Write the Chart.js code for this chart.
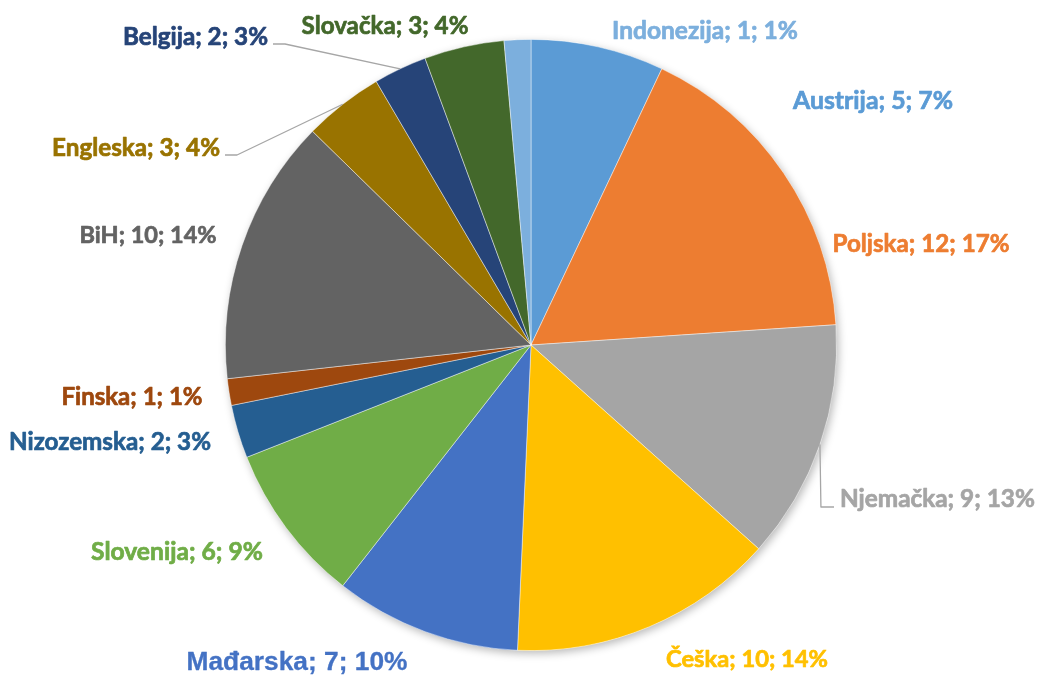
<!DOCTYPE html>
<html>
<head>
<meta charset="utf-8">
<script src="https://cdn.jsdelivr.net/npm/chart.js@4/dist/chart.umd.min.js"></script>
<style>
  html, body { margin: 0; padding: 0; background: #ffffff; }
  #wrap { width: 1038px; height: 677px; position: relative; }
</style>
</head>
<body>
<div id="wrap"><canvas id="c" width="1038" height="677"></canvas></div>
<script>
// ---- data ----
const categories = ['Austrija', 'Poljska', 'Njemačka', 'Češka', 'Mađarska', 'Slovenija', 'Nizozemska', 'Finska', 'BiH', 'Engleska', 'Belgija', 'Slovačka', 'Indonezija'];
const values = [5, 12, 9, 10, 7, 6, 2, 1, 10, 3, 2, 3, 1];
const percents = [7, 17, 13, 14, 10, 9, 3, 1, 14, 4, 3, 4, 1];

// ---- styles ----
const colors = ['#5B9BD5', '#ED7D31', '#A5A5A5', '#FFC000', '#4472C4', '#70AD47', '#255E91', '#9E480E', '#636363', '#997300', '#264478', '#43682B', '#7CAFDD'];
const FONT_MAIN = 'Lato, "Open Sans", "DejaVu Sans", sans-serif';
const FONT_ALT = '"Liberation Sans", Arial, sans-serif';
// label placement: anchor x, baseline y, alignment, target text width, leader line
const labelLayout = [
  { x: 873,  y: 109, align: 'center', w: 160 },
  { x: 921,  y: 252, align: 'center', w: 177 },
  { x: 840,  y: 507, align: 'left',   w: 195, leader: 'down' },
  { x: 747,  y: 667, align: 'center', w: 162 },
  { x: 297,  y: 670, align: 'center', w: 221, alt: true },
  { x: 177,  y: 560, align: 'center', w: 172 },
  { x: 110,  y: 450, align: 'center', w: 202 },
  { x: 132,  y: 405, align: 'center', w: 141 },
  { x: 148,  y: 243, align: 'center', w: 137 },
  { x: 220,  y: 156, align: 'right',  w: 168, leader: 'side' },
  { x: 268,  y: 45,  align: 'right',  w: 145, leader: 'side' },
  { x: 385,  y: 34,  align: 'center', w: 167 },
  { x: 705,  y: 39,  align: 'center', w: 186 }
];

const shadowPlugin = {
  id: 'pieShadow',
  beforeDatasetsDraw(chart) {
    const arc = chart.getDatasetMeta(0).data[0];
    if (!arc) return;
    const ctx = chart.ctx;
    ctx.save();
    ctx.shadowColor = 'rgba(0,0,0,0.28)';
    ctx.shadowBlur = 9;
    ctx.shadowOffsetX = 2;
    ctx.shadowOffsetY = 3;
    ctx.fillStyle = '#ffffff';
    ctx.beginPath();
    ctx.arc(arc.x, arc.y, arc.outerRadius, 0, Math.PI * 2);
    ctx.fill();
    ctx.restore();
  }
};

const labelPlugin = {
  id: 'pieLabels',
  afterDatasetsDraw(chart) {
    const ctx = chart.ctx;
    const meta = chart.getDatasetMeta(0);
    ctx.save();
    meta.data.forEach((arc, i) => {
      const L = labelLayout[i];
      const fam = L.alt ? FONT_ALT : FONT_MAIN;
      const text = categories[i] + '; ' + values[i] + '; ' + percents[i] + '%';
      ctx.font = 'bold 20px ' + fam;
      const baseW = ctx.measureText(text).width;
      const size = 20 * L.w / baseW;
      ctx.font = 'bold ' + size.toFixed(2) + 'px ' + fam;
      ctx.fillStyle = colors[i];
      ctx.strokeStyle = colors[i];
      ctx.lineWidth = L.alt ? 0.3 : 0.7;
      ctx.lineJoin = 'round';
      ctx.textAlign = L.align;
      ctx.textBaseline = 'alphabetic';
      ctx.fillText(text, L.x, L.y);
      ctx.strokeText(text, L.x, L.y);

      if (L.leader) {
        const mid = (arc.startAngle + arc.endAngle) / 2;
        const px = arc.x + Math.cos(mid) * arc.outerRadius;
        const py = arc.y + Math.sin(mid) * arc.outerRadius;
        ctx.strokeStyle = '#A6A6A6';
        ctx.lineWidth = 1.3;
        ctx.beginPath();
        if (L.leader === 'down') {
          const ly = L.y;
          ctx.moveTo(px, py);
          ctx.lineTo(px + 1, ly);
          ctx.lineTo(L.x - 6, ly);
        } else {
          const ly = L.y - 1;
          ctx.moveTo(L.x + 5, ly);
          ctx.lineTo(L.x + 17, ly);
          ctx.lineTo(px, py);
        }
        ctx.stroke();
      }
    });
    ctx.restore();
  }
};

new Chart(document.getElementById('c'), {
  type: 'pie',
  data: {
    labels: categories,
    datasets: [{
      data: values,
      backgroundColor: colors,
      borderColor: 'rgba(255,255,255,0.55)',
      borderWidth: 0.8
    }]
  },
  options: {
    responsive: false,
    animation: false,
    layout: { padding: { left: 225, right: 201, top: 39, bottom: 26 } },
    plugins: {
      legend: { display: false },
      tooltip: { enabled: false },
      title: { display: false }
    }
  },
  plugins: [shadowPlugin, labelPlugin]
});
</script>
</body>
</html>
